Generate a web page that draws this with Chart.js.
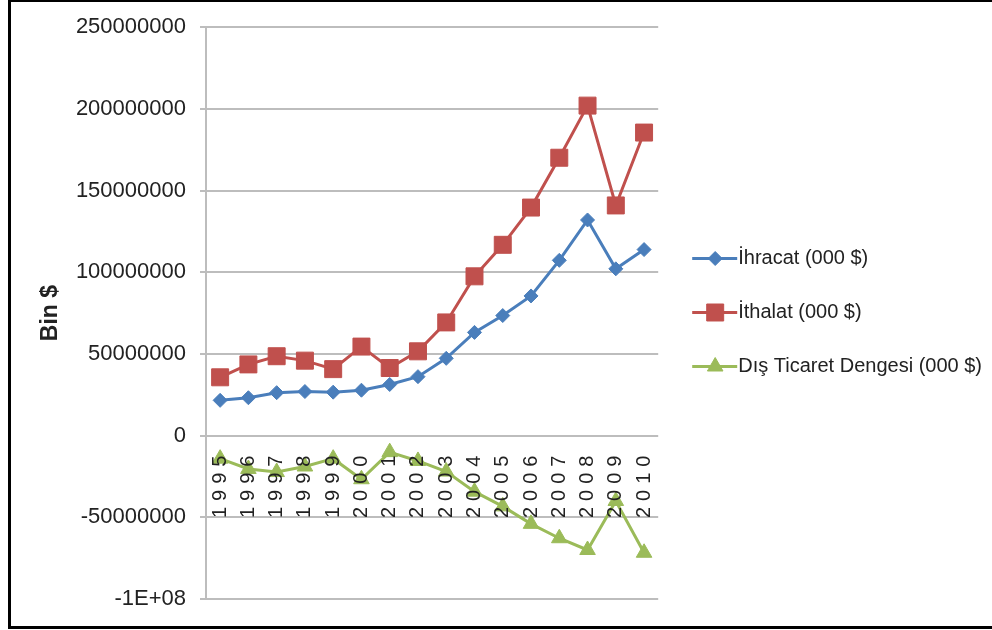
<!DOCTYPE html>
<html>
<head>
<meta charset="utf-8">
<script src="https://cdn.jsdelivr.net/npm/chart.js@4/dist/chart.umd.min.js"></script>
<style>
  body { margin: 0; background: #fff; }
  #frame { position: absolute; left: 8px; top: 0; width: 990px; height: 624px;
           border-left: 3px solid #000; border-top: 2px solid #000; border-bottom: 3px solid #000; }
  #wrap { position: absolute; left: 0; top: 0; width: 992px; height: 630px; }
</style>
</head>
<body>
<div id="frame"></div>
<div id="wrap"><canvas id="myChart" width="992" height="630"></canvas></div>
<script>
// yillar
const years = ["1995","1996","1997","1998","1999","2000","2001","2002",
               "2003","2004","2005","2006","2007","2008","2009","2010"]

// degerler (000 $)
const ihracat = [21600000, 23200000, 26300000, 27000000, 26600000, 27800000, 31300000, 36100000,
                 47300000, 63200000, 73500000, 85500000, 107300000, 132000000, 102100000, 113900000]
const ithalat = [35700000, 43600000, 48600000, 45900000, 40700000, 54500000, 41400000, 51600000,
                 69300000, 97500000, 116800000, 139600000, 170100000, 202000000, 140900000, 185500000]
const denge = [-14100000, -20400000, -22300000, -18900000, -14100000, -26700000, -10100000, -15500000,
               -22000000, -34300000, -43300000, -54000000, -62800000, -70000000, -40000000, -71700000]

const seriesNames = ["İhracat (000 $)", "İthalat (000 $)", "Dış Ticaret Dengesi (000 $)"]
const yTicks = { min: -100000000, max: 250000000, step: 50000000 }

// Excel "General" gibi: cok uzun sayilar ustel yaziliyor
function excelGeneral(v){
  let s = String(v)
  if(s.length > 9){
    s = v.toExponential(0).replace("e", "E").replace(/E([+-])(\d)$/, "E$10$2")
  }
  return s
}

// legend kutusunun yerine cizgi + isaret, x etiketleri icin harf araligi
const legendMarks = {
  id: "legendMarks",
  afterDatasetsDraw(chart){
    chart.ctx.letterSpacing = "6px"
  },
  afterDraw(chart){
    const ctx = chart.ctx
    ctx.letterSpacing = "0px"
    chart.legend.legendHitBoxes.forEach(function(box, i){
      const ds = chart.data.datasets[i]
      const y = box.top + box.height / 2
      ctx.save()
      ctx.strokeStyle = ds.borderColor
      ctx.lineWidth = 3
      ctx.beginPath()
      ctx.moveTo(box.left, y)
      ctx.lineTo(box.left + 45, y)
      ctx.stroke()
      ctx.fillStyle = ds.pointBackgroundColor
      ctx.lineWidth = 1
      Chart.helpers.drawPoint(ctx, { pointStyle: ds.pointStyle, radius: ds.pointRadius, borderWidth: 1, rotation: 0 }, box.left + 23, y)
      ctx.restore()
    })
  }
}

const grayLine = "#bdbdbd"

const chart = new Chart("myChart", {
  type: "line",
  data: {
    labels: years,
    datasets: [{
        label: seriesNames[0],
        data: ihracat,
        borderColor: "#4a7ebb",
        backgroundColor: "#4a7ebb",
        pointBackgroundColor: "#4a7ebb",
        borderWidth: 3,
        pointStyle: "rectRot",
        pointRadius: 7,
        pointBorderWidth: 1
      },{
        label: seriesNames[1],
        data: ithalat,
        borderColor: "#c0504d",
        backgroundColor: "#c0504d",
        pointBackgroundColor: "#c0504d",
        borderWidth: 3,
        pointStyle: "rect",
        pointRadius: 12,
        pointBorderWidth: 1
      },{
        label: seriesNames[2],
        data: denge,
        borderColor: "#9bbb59",
        backgroundColor: "#9bbb59",
        pointBackgroundColor: "#9bbb59",
        borderWidth: 3,
        pointStyle: "triangle",
        pointRadius: 9,
        pointBorderWidth: 1
      }
    ]
  },
  options: {
    responsive: false,
    animation: false,
    layout: { padding: { left: 37, top: 26, bottom: 31, right: 0 } },
    plugins: {
      tooltip: { enabled: false },
      legend: {
        position: "right",
        maxWidth: 340,
        labels: {
          boxWidth: 36,
          boxHeight: 20,
          padding: 34,
          color: "#222",
          font: { family: "Liberation Sans", size: 20 },
          generateLabels(chart){
            const items = Chart.defaults.plugins.legend.labels.generateLabels(chart)
            items.forEach(function(it){
              it.fillStyle = "rgba(0,0,0,0)"
              it.strokeStyle = "rgba(0,0,0,0)"
              it.lineWidth = 0
            })
            return items
          }
        }
      }
    },
    scales: {
      x: {
        type: "category",
        position: { y: 0 },
        offset: true,
        grid: { display: false, drawTicks: false },
        border: { display: false },
        ticks: {
          z: 1,
          autoSkip: false,
          maxRotation: 90,
          minRotation: 90,
          padding: 14,
          color: "#222",
          font: { family: "Liberation Sans", size: 20 }
        }
      },
      y: {
        min: yTicks.min,
        max: yTicks.max,
        afterFit(scale){ scale.width = 169 },
        grid: { color: grayLine, lineWidth: 2, tickLength: 6 },
        border: { color: grayLine, width: 2 },
        ticks: {
          stepSize: yTicks.step,
          padding: 14,
          color: "#222",
          font: { family: "Liberation Sans", size: 22 },
          callback: function(v){ return excelGeneral(v) }
        },
        title: {
          display: true,
          text: "Bin $",
          color: "#222",
          padding: { top: 0, bottom: 0 },
          font: { family: "Liberation Sans", size: 23, weight: "bold" }
        }
      }
    }
  },
  plugins: [legendMarks]
})
</script>
</body>
</html>
